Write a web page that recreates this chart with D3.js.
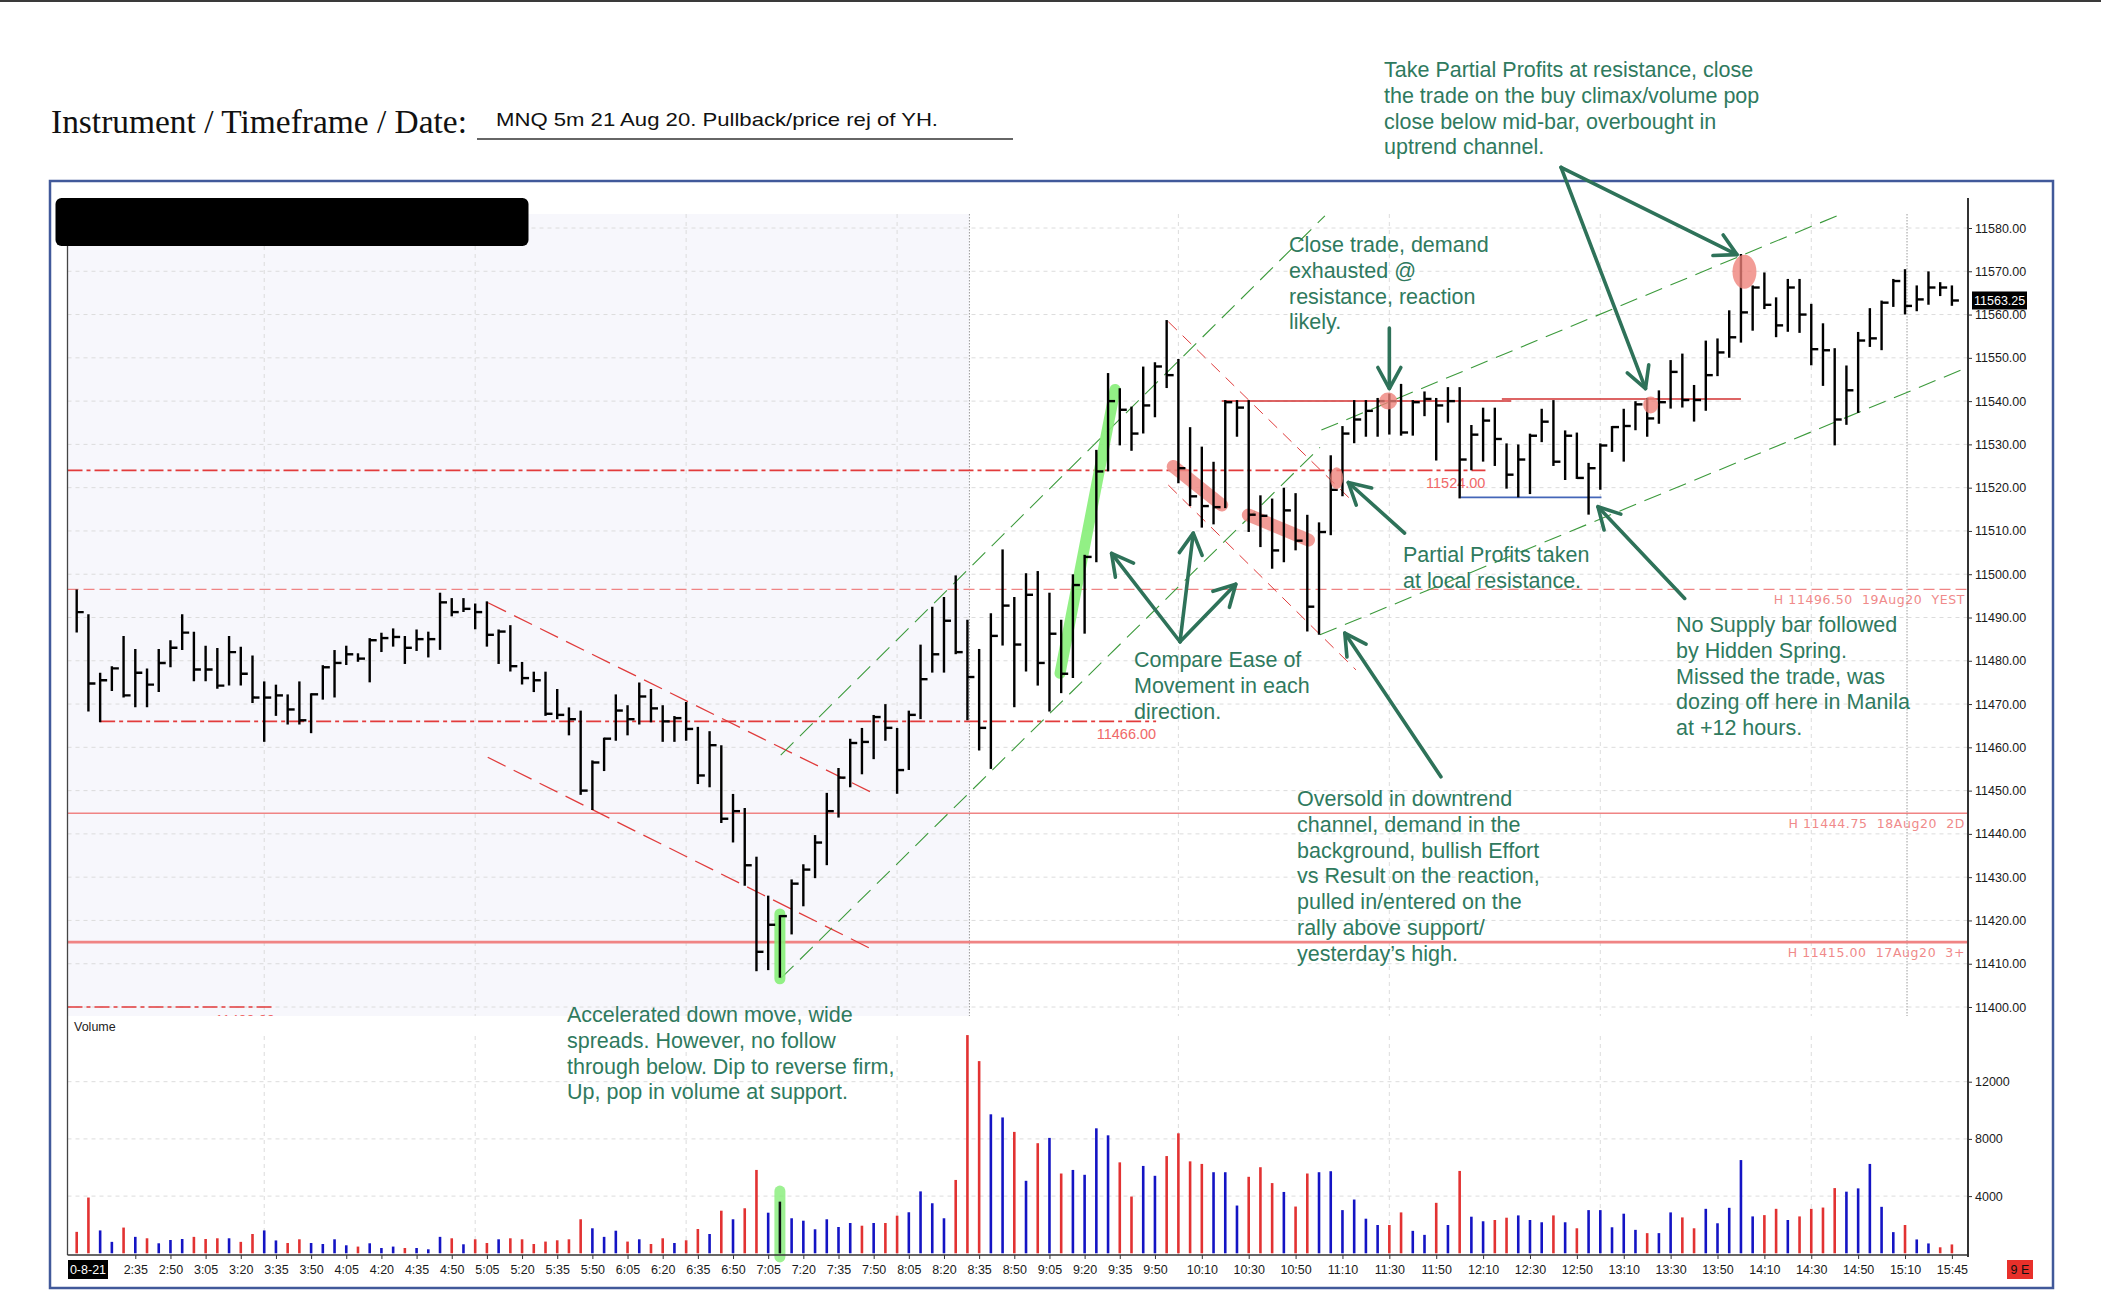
<!DOCTYPE html>
<html><head><meta charset="utf-8">
<script src="https://cdn.jsdelivr.net/npm/d3@7/dist/d3.min.js"></script>
<style>body{margin:0;background:#fff;overflow:hidden}svg{display:block}</style>
</head><body>
<svg id="c" width="2101" height="1316"></svg>
<script>
// ---------- DATA ----------
const highs = [11496.25,11490.5,11477,11478.5,11485.5,11482.5,11478,11482.5,11484.5,11490.5,
11486.5,11483.25,11482.75,11485.5,11483,11481,11475,11474.25,11472,11475,
11472.25,11478.75,11482.25,11483.25,11481.5,11485,11486.25,11487.25,11485.5,11487,
11486.5,11495.5,11494.25,11494.25,11493,11493.5,11487,11488,11479.5,11477.25,
11477.25,11473.25,11469,11468.25,11456.75,11462,11472,11469.5,11474.75,11473.25,
11469.5,11467,11470.25,11464.5,11463.5,11460.25,11449,11445.75,11434.5,11425.5,
11421,11429.25,11432.75,11439.5,11449.25,11455,11461.75,11464.25,11467.25,11469.75,
11464.25,11468.25,11483.5,11492.25,11494.5,11499.5,11489.25,11482.5,11490.75,11505.5,
11494.5,11500,11500.5,11495.5,11489.25,11499.75,11504.25,11528.5,11546.25,11542.75,
11538.5,11547.75,11548.75,11558.5,11549.5,11533.75,11529.25,11525.75,11540,11540,
11540,11518,11517.25,11519.75,11518.5,11513.5,11511.75,11527.25,11534,11540,
11540,11540.5,11541.5,11543.75,11540,11542,11540.5,11543,11543,11534.25,
11538.25,11538.25,11530,11529.75,11532.25,11538,11540,11533,11532.5,11525.5,
11530,11534,11538,11539.75,11540.5,11542.25,11549.25,11550.75,11543.5,11553.75,
11554.25,11560.75,11573.75,11566.5,11569.5,11563.75,11568,11568,11562.25,11557.75,
11552,11548,11555.75,11561.25,11563,11568,11570.25,11566.5,11569.75,11567.25,11566.5];
const lows = [11486.75,11468.5,11466,11473.25,11471.75,11469.5,11469.5,11473,11478.75,11482.75,
11475.5,11475.5,11473.75,11474.5,11474.5,11470.5,11461.5,11467.5,11465.5,11465.5,
11463.5,11471.25,11471.75,11479.25,11480,11475.25,11482.25,11483.5,11479.5,11482.5,
11481,11482.75,11490.5,11491.5,11487.5,11483.5,11479.5,11477.75,11474.75,11473,
11467.5,11466.75,11463,11449.25,11445.75,11454.75,11461.75,11463,11465.5,11466,
11461.5,11461.5,11461.75,11451.75,11451,11442.75,11438.25,11428.25,11408.5,11408.75,
11407,11417,11423.5,11430,11433,11444,11451,11454,11457.5,11461.75,
11449.5,11455,11466.75,11477.5,11477.5,11481.75,11466.5,11459.5,11455.25,11483.75,
11469.5,11477.75,11474.5,11468.5,11472.75,11476.25,11486.5,11503,11524,11530,
11528.75,11532.75,11536.5,11543.25,11521.25,11516,11511,11511.75,11515.5,11532,
11510,11506.5,11501.5,11503,11505.75,11487,11486.25,11509.25,11518.25,11530.5,
11532,11532,11532.5,11532.25,11532.25,11536.75,11526.5,11535.25,11517.75,11524.25,
11526.25,11525.25,11520,11518,11518.75,11530.75,11525.25,11522,11522.25,11514,
11519.75,11528.5,11526.25,11533.5,11532,11535,11538.5,11538.75,11535.5,11538,
11546,11550.25,11553.75,11556.5,11561.5,11555,11556.25,11556,11548.5,11543.75,
11530,11534.75,11537.5,11552.75,11552,11562,11560.25,11561,11562.5,11564.5,11562.25];
const closes = [11491.25,11474.75,11475.5,11478.25,11472,11477.25,11474.5,11479.5,11483,11486.5,
11478,11478,11474.25,11482,11477,11471.5,11471.5,11472,11468.75,11466.25,
11472.25,11478.5,11479.5,11481.5,11480.5,11484.75,11485.25,11485.5,11483,11485,
11485,11493.5,11491.25,11492,11491.25,11486,11486.75,11478.75,11476,11475.5,
11467.75,11467.5,11466.5,11450,11456.5,11462,11468.5,11466.5,11471.75,11469,
11466,11466.75,11464.25,11453.5,11460.5,11443.5,11445.25,11432.75,11412.75,11419,
11421,11428.5,11431.75,11438,11445.25,11453,11461,11461.25,11467,11464.5,
11454.75,11467.5,11475.75,11481.5,11489.25,11482,11476.25,11464.5,11485.75,11492.75,
11483.75,11495.25,11479.5,11486.25,11477,11497.5,11504,11523.75,11540,11538,
11532.5,11539,11548,11546,11524.5,11518,11515.75,11515.5,11539.75,11538.5,
11513.75,11513.5,11505.5,11514.75,11507.75,11492.5,11509.75,11519.5,11532.5,11535.75,
11537.75,11540,11540,11532.75,11539.75,11540.5,11539,11540,11526.5,11532.25,
11535.5,11531.25,11523,11526.5,11532,11535.25,11526,11532,11522.25,11524.5,
11529.75,11534,11534.25,11539.25,11536,11539.75,11546.75,11540.25,11540.25,11546,
11551.25,11554.75,11560.5,11566.25,11562.25,11557.5,11566.25,11560,11552,11551.75,
11535.75,11542.5,11554,11554.5,11562.75,11567.75,11562,11563.5,11566.25,11566.25,11563.25];
const volumes = [1500,3900,1600,800,1800,1150,1050,700,930,1000,
1150,1000,1050,1050,800,1350,1600,900,720,980,
720,650,980,560,470,700,370,470,370,370,
280,1150,1050,630,980,720,980,1050,980,650,
820,910,980,2380,1750,1150,1580,820,980,650,
1050,720,910,1700,1350,2980,2380,3150,5830,2840,
3610,2450,2280,1680,2380,1840,2120,1930,2120,2120,
2630,2870,4330,3500,2450,5130,15260,13440,9720,9500,
8490,5070,7700,8070,5580,5830,5490,8740,8250,6360,
3970,6110,5420,6800,8390,6430,6250,5670,5670,3340,
5350,6020,4910,4290,3270,5580,5670,5740,3020,3760,
2420,1980,1980,2860,1570,1290,3530,1980,5760,2560,
2240,2330,2490,2650,2330,2170,2650,2170,1750,3020,
3020,1820,2770,1640,1410,1410,2860,2510,1750,3110,
2100,3180,6520,2580,2670,3110,2330,2580,3110,3200,
4560,4310,4540,6250,3250,1480,1980,970,690,420,620];
// 1 = up volume (blue), 0 = down volume (red)
const volUp = [0,0,1,1,0,1,0,1,1,1, 0,0,0,1,0,0,1,1,0,0, 1,1,1,1,0,1,1,1,0,1,
1,1,0,1,0,0,1,0,0,0, 0,0,0,0,1,1,1,0,1,0, 0,1,0,0,1,0,1,0,0,1,
1,1,1,1,1,1,1,0,1,0, 0,1,1,1,1,0,0,0,1,1, 0,1,0,1,0,1,1,1,1,0,
0,1,1,0,0,0,0,1,1,1, 0,0,0,1,0,0,1,1,1,1, 1,1,0,0,1,1,0,1,0,1,
1,0,0,1,1,1,0,1,0,1, 1,1,1,1,0,1,1,0,0,1, 1,1,1,1,0,0,1,0,0,0,
0,1,1,1,1,1,0,1,1,0,0];
const priceTicks = [11400,11410,11420,11430,11440,11450,11460,11470,11480,11490,11500,11510,11520,11530,11540,11550,11560,11570,11580];
const volTicks = [4000,8000,12000];
const timeTickBars = [5,8,11,14,17,20,23,26,29,32,35,38,41,44,47,50,53,56,59,62,65,68,71,74,77,80,83,86,89,92,96,100,104,108,112,116,120,124,128,132,136,140,144,148,152,156,160];
const timeTickLabels = ["2:35","2:50","3:05","3:20","3:35","3:50","4:05","4:20","4:35","4:50","5:05","5:20","5:35","5:50","6:05","6:20","6:35","6:50","7:05","7:20","7:35","7:50","8:05","8:20","8:35","8:50","9:05","9:20","9:35","9:50","10:10","10:30","10:50","11:10","11:30","11:50","12:10","12:30","12:50","13:10","13:30","13:50","14:10","14:30","14:50","15:10","15:45"];
const gridBars = [16,34,52,70,94,112,130,148];
const sessionBars = [76,156];
const lastPrice = 11563.25;
// prior-day levels
const levelPrices = [11496.5, 11444.75, 11415];
const levelLabels = ["H 11496.50  19Aug20  YEST","H 11444.75  18Aug20  2D","H 11415.00  17Aug20  3+"];
// drawn price rays [fromBar, toBar, price, label]
const rays = [[2,92.1,11466,"11466.00"],[-1,120.2,11524,"11524.00"],[-1,16.9,11400,"11400.00"]];
// channel lines [bar1, price1, bar2, price2]
const redChannels = [[35.1,11493.4,68.1,11449.2],[35.07,11457.7,68.1,11413.0],
  [93.14,11558.35,109.15,11516.1],[93.14,11520.6,109.15,11477.9]];
const greenChannels = [[60.07,11458.2,106.5,11582.8],[60.07,11406.6,106.08,11529.3],
  [106.2,11533.3,150.45,11583.1],[106.08,11486.0,160.8,11547.2]];
const resistSegs = [[97.7,122.4,11540],[121.6,142,11540.5]];
const supportSeg = [118.1,130.1,11517.75];
const greenMarks = [[60,11406.5,60,11421.5],[83.9,11477.1,88.6,11542.7]];
const pinkMarks = [[93.56,11524.9,97.7,11516],[99.97,11513.7,105.1,11507.9]];
const pinkDots = [[107.5,11522.2,6.5,11],[111.9,11540,9,8.5],[134.3,11539.1,7.5,8.5],[142.3,11569.9,12,17]];
// arrows [bar1, price1, bar2, price2]
const arrows = [[126.65,11594,141.66,11573.85],[126.65,11594,133.86,11542.9],
  [112,11556.9,112,11542.9],[113.3,11509.5,108.5,11521.2],
  [94.14,11484.4,88.3,11504.8],[94.14,11484.4,95.27,11509.5],[94.14,11484.4,98.9,11497.7],
  [137.2,11494.4,129.8,11515.6],[116.4,11453.2,108.2,11486.4]];
const notes = [
 {x:1384,y:77,lines:["Take Partial Profits at resistance, close","the trade on the buy climax/volume pop","close below mid-bar, overbought in","uptrend channel."]},
 {x:1289,y:252,lines:["Close trade, demand","exhausted @","resistance, reaction","likely."]},
 {x:1403,y:562,lines:["Partial Profits taken","at local resistance."]},
 {x:1134,y:667,lines:["Compare Ease of","Movement in each","direction."]},
 {x:1676,y:632,lines:["No Supply bar followed","by Hidden Spring.","Missed the trade, was","dozing off here in Manila","at +12 hours."]},
 {x:1297,y:806,lines:["Oversold in downtrend","channel, demand in the","background, bullish Effort","vs Result on the reaction,","pulled in/entered on the","rally above support/","yesterday’s high."]},
 {x:567,y:1022,lines:["Accelerated down move, wide","spreads. However, no follow","through below. Dip to reverse firm,","Up, pop in volume at support."]}
];

// ---------- DRAW ----------
const svg = d3.select("#c");
const W = 2101, H = 1316;
const plotL = 67.5, axisX = 1968;
const priceTop = 214, priceBot = 1016, volTop = 1020, volBot = 1255;

const x = d3.scaleLinear().domain([0,160]).range([76.7, 76.7+160*11.72]);
const y = d3.scaleLinear().domain([11400,11580]).range([1007,228]);
const v = d3.scaleLinear().domain([0,12000]).range([1253.3,1081.7]);

const defs = svg.append("defs");
defs.append("clipPath").attr("id","pclip").append("rect")
  .attr("x",plotL).attr("y",priceTop).attr("width",axisX-plotL).attr("height",priceBot-priceTop);

// top rule
svg.append("rect").attr("x",0).attr("y",0).attr("width",W).attr("height",2).attr("fill","#3a3a3a");

// title
svg.append("text").attr("x",51).attr("y",133).attr("font-family","'Liberation Serif','Times New Roman',serif")
  .attr("font-size",33.5).attr("fill","#111").attr("textLength",416).attr("lengthAdjust","spacingAndGlyphs")
  .text("Instrument / Timeframe / Date:");
svg.append("text").attr("x",496).attr("y",126).attr("font-family","'Liberation Sans',Arial,sans-serif")
  .attr("font-size",19).attr("fill","#111").attr("textLength",442).attr("lengthAdjust","spacingAndGlyphs")
  .text("MNQ 5m 21 Aug 20. Pullback/price rej of YH.");
svg.append("line").attr("x1",477).attr("x2",1013).attr("y1",139).attr("y2",139).attr("stroke","#333").attr("stroke-width",1.5);

// frame
svg.append("rect").attr("x",50).attr("y",181).attr("width",2003).attr("height",1107)
  .attr("fill","#fff").attr("stroke","#41599a").attr("stroke-width",2.5);

// pre-market shading
svg.append("rect").attr("x",plotL).attr("y",priceTop).attr("width",x(sessionBars[0])+2-plotL).attr("height",priceBot-priceTop)
  .attr("fill","#f7f7fc");

const grid = svg.append("g").attr("stroke","#dcdcdc").attr("stroke-width",1).attr("stroke-dasharray","4,4");
priceTicks.forEach(p=>grid.append("line").attr("x1",plotL).attr("x2",axisX).attr("y1",y(p)).attr("y2",y(p)));
volTicks.forEach(t=>grid.append("line").attr("x1",plotL).attr("x2",axisX).attr("y1",v(t)).attr("y2",v(t)));
gridBars.forEach(b=>{
  grid.append("line").attr("x1",x(b)).attr("x2",x(b)).attr("y1",priceTop).attr("y2",priceBot);
  grid.append("line").attr("x1",x(b)).attr("x2",x(b)).attr("y1",1036).attr("y2",volBot);
});
sessionBars.forEach(b=>svg.append("line").attr("x1",x(b)+2).attr("x2",x(b)+2).attr("y1",priceTop).attr("y2",priceBot)
  .attr("stroke","#9a9a9a").attr("stroke-width",1).attr("stroke-dasharray","1.5,1.5"));

const pg = svg.append("g").attr("clip-path","url(#pclip)");

// levels
const lvlStyle = [{d:"11,5",w:1.3},{d:null,w:1.5},{d:null,w:2.6}];
levelPrices.forEach((p,i)=>{
  const l = pg.append("line").attr("x1",plotL).attr("x2",axisX).attr("y1",y(p)).attr("y2",y(p))
    .attr("stroke","#f08484").attr("stroke-width",lvlStyle[i].w);
  if(lvlStyle[i].d) l.attr("stroke-dasharray",lvlStyle[i].d);
  pg.append("text").attr("x",axisX-3).attr("y",y(p)+15).attr("text-anchor","end")
    .attr("font-family","'DejaVu Sans',Verdana,sans-serif").attr("font-size",12.5).attr("letter-spacing",0.6)
    .attr("fill","#f08a8a").style("white-space","pre").text(levelLabels[i]);
});
rays.forEach(r=>{
  const x1 = r[0]<0 ? plotL : x(r[0]);
  pg.append("line").attr("x1",x1).attr("x2",x(r[1])).attr("y1",y(r[2])).attr("y2",y(r[2]))
    .attr("stroke","#e23b3b").attr("stroke-width",1.6).attr("stroke-dasharray","15,4,4,4");
  pg.append("text").attr("x",x(r[1])).attr("y",y(r[2])+18).attr("text-anchor","end")
    .attr("font-family","'Liberation Sans',Arial,sans-serif").attr("font-size",14.5).attr("fill","#f06868").text(r[3]);
});
redChannels.forEach((c,i)=>pg.append("line").attr("x1",x(c[0])).attr("y1",y(c[1])).attr("x2",x(c[2])).attr("y2",y(c[3]))
  .attr("stroke","#e03c3c").attr("stroke-width",i<2?1.3:1).attr("stroke-dasharray",i<2?"20,9":"12,8"));
greenChannels.forEach(c=>pg.append("line").attr("x1",x(c[0])).attr("y1",y(c[1])).attr("x2",x(c[2])).attr("y2",y(c[3]))
  .attr("stroke","#3c9a3c").attr("stroke-width",1.1).attr("stroke-dasharray","18,9"));
resistSegs.forEach(s=>pg.append("line").attr("x1",x(s[0])).attr("x2",x(s[1])).attr("y1",y(s[2])).attr("y2",y(s[2]))
  .attr("stroke","#d23030").attr("stroke-width",1.5));
pg.append("line").attr("x1",x(supportSeg[0])).attr("x2",x(supportSeg[1])).attr("y1",y(supportSeg[2])).attr("y2",y(supportSeg[2]))
  .attr("stroke","#4466b8").attr("stroke-width",1.6);

// highlights under bars
greenMarks.forEach(m=>pg.append("line").attr("x1",x(m[0])).attr("y1",y(m[1])).attr("x2",x(m[2])).attr("y2",y(m[3]))
  .attr("stroke","#86ee78").attr("stroke-opacity",0.9).attr("stroke-width",11).attr("stroke-linecap","round"));
pinkMarks.forEach(m=>pg.append("line").attr("x1",x(m[0])).attr("y1",y(m[1])).attr("x2",x(m[2])).attr("y2",y(m[3]))
  .attr("stroke","#ee8a84").attr("stroke-opacity",0.85).attr("stroke-width",13).attr("stroke-linecap","round"));

// HLC bars
const idx = d3.range(highs.length);
pg.append("g").selectAll("line").data(idx).join("line")
  .attr("x1",i=>x(i)).attr("x2",i=>x(i)).attr("y1",i=>y(highs[i])-1).attr("y2",i=>y(lows[i])+1)
  .attr("stroke","#000").attr("stroke-width",2.4);
pg.append("g").selectAll("line").data(idx).join("line")
  .attr("x1",i=>x(i)).attr("x2",i=>x(i)+7).attr("y1",i=>y(closes[i])).attr("y2",i=>y(closes[i]))
  .attr("stroke","#000").attr("stroke-width",2.4);

// pink dots over bars
pinkDots.forEach(d=>pg.append("ellipse").attr("cx",x(d[0])).attr("cy",y(d[1])).attr("rx",d[2]).attr("ry",d[3])
  .attr("fill","#ee8078").attr("fill-opacity",0.78));

// volume bars
svg.append("g").selectAll("line").data(idx).join("line")
  .attr("x1",i=>x(i)).attr("x2",i=>x(i)).attr("y1",v(0)).attr("y2",i=>v(volumes[i]))
  .attr("stroke",i=>volUp[i]?"#1414c4":"#e23232").attr("stroke-width",2.6);
svg.append("line").attr("x1",x(60)).attr("x2",x(60)).attr("y1",v(-250)).attr("y2",v(4350))
  .attr("stroke","#86ee78").attr("stroke-opacity",0.8).attr("stroke-width",11).attr("stroke-linecap","round");
svg.append("line").attr("x1",x(60)).attr("x2",x(60)).attr("y1",v(0)).attr("y2",v(volumes[60]))
  .attr("stroke","#101010").attr("stroke-width",2.4);
svg.append("text").attr("x",74).attr("y",1031).attr("font-family","'Liberation Sans',Arial,sans-serif")
  .attr("font-size",12.5).attr("fill","#222").text("Volume");

// axes lines
svg.append("line").attr("x1",plotL).attr("x2",plotL).attr("y1",198).attr("y2",volBot).attr("stroke","#444").attr("stroke-width",1.3);
svg.append("line").attr("x1",axisX).attr("x2",axisX).attr("y1",198).attr("y2",volBot+2).attr("stroke","#333").attr("stroke-width",2);
svg.append("line").attr("x1",plotL).attr("x2",axisX).attr("y1",volBot).attr("y2",volBot).attr("stroke","#333").attr("stroke-width",1.5);

// price axis
const pAxis = d3.axisRight(y).tickValues(priceTicks).tickSize(4).tickPadding(3).tickFormat(d3.format(".2f"));
const pa = svg.append("g").attr("transform",`translate(${axisX},0)`).call(pAxis);
pa.select(".domain").remove();
pa.selectAll("text").attr("font-family","'Liberation Sans',Arial,sans-serif").attr("font-size",12.5).attr("fill","#1a1a1a");
pa.selectAll("line").attr("stroke","#333");
const vAxis = d3.axisRight(v).tickValues(volTicks).tickSize(4).tickPadding(3).tickFormat(d3.format("d"));
const va = svg.append("g").attr("transform",`translate(${axisX},0)`).call(vAxis);
va.select(".domain").remove();
va.selectAll("text").attr("font-family","'Liberation Sans',Arial,sans-serif").attr("font-size",12.5).attr("fill","#1a1a1a");
va.selectAll("line").attr("stroke","#333");

// last price tag
svg.append("rect").attr("x",1972).attr("y",y(lastPrice)-9).attr("width",55).attr("height",18).attr("fill","#000");
svg.append("text").attr("x",1974).attr("y",y(lastPrice)+4.5).attr("font-family","'Liberation Sans',Arial,sans-serif")
  .attr("font-size",12.5).attr("fill","#fff").text(d3.format(".2f")(lastPrice));

// time axis
const tAxis = d3.axisBottom(x).tickValues(timeTickBars).tickSize(4).tickPadding(6).tickFormat((d,i)=>timeTickLabels[i]);
const ta = svg.append("g").attr("transform",`translate(0,${volBot})`).call(tAxis);
ta.select(".domain").remove();
ta.selectAll("text").attr("font-family","'Liberation Sans',Arial,sans-serif").attr("font-size",12.5).attr("fill","#1a1a1a");
ta.selectAll("line").attr("stroke","#333");
svg.append("rect").attr("x",68).attr("y",1260).attr("width",40).attr("height",19).attr("fill","#000");
svg.append("text").attr("x",88).attr("y",1274).attr("text-anchor","middle").attr("font-family","'Liberation Sans',Arial,sans-serif")
  .attr("font-size",12.5).attr("fill","#fff").text("0-8-21");
svg.append("rect").attr("x",2007).attr("y",1260).attr("width",26).attr("height",19).attr("fill","#e8302a");
svg.append("text").attr("x",2020).attr("y",1274).attr("text-anchor","middle").attr("font-family","'Liberation Sans',Arial,sans-serif")
  .attr("font-size",12.5).attr("fill","#111").text("9 E");

// redaction box
svg.append("rect").attr("x",55.5).attr("y",198).attr("width",473).attr("height",48).attr("rx",6).attr("fill","#000");

// arrows
const ag = svg.append("g").attr("stroke","#2e7259").attr("stroke-width",3.6).attr("fill","none").attr("stroke-linecap","round").attr("stroke-linejoin","round");
arrows.forEach(a=>{
  const x1=x(a[0]), y1=y(a[1]), x2=x(a[2]), y2=y(a[3]);
  const ang = Math.atan2(y2-y1,x2-x1), L=24, s=0.5;
  ag.append("line").attr("x1",x1).attr("y1",y1).attr("x2",x2).attr("y2",y2);
  ag.append("path").attr("d",`M${x2-L*Math.cos(ang-s)},${y2-L*Math.sin(ang-s)}L${x2},${y2}L${x2-L*Math.cos(ang+s)},${y2-L*Math.sin(ang+s)}`);
});

// notes
notes.forEach(n=>{
  const t = svg.append("text").attr("font-family","'Liberation Sans',Arial,sans-serif").attr("font-size",21.5).attr("fill","#2f7a5e");
  n.lines.forEach((ln,k)=>t.append("tspan").attr("x",n.x).attr("y",n.y+k*25.8).text(ln));
});
</script>
</body></html>
